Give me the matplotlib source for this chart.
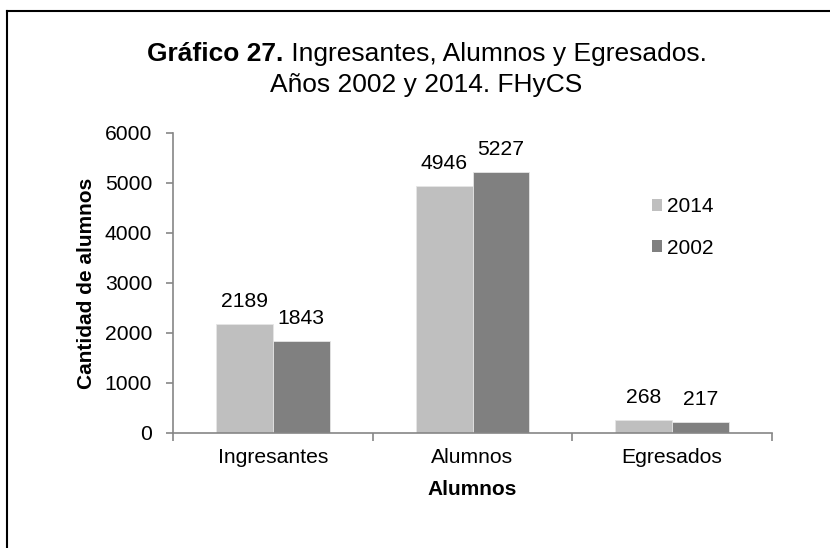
import matplotlib
matplotlib.use("Agg")
import matplotlib.pyplot as plt
from matplotlib.lines import Line2D
import numpy as np

categories = ["Ingresantes", "Alumnos", "Egresados"]
series_names = ["2014", "2002"]
values_2014 = [2189, 4946, 268]
values_2002 = [1843, 5227, 217]
yticks = [0, 1000, 2000, 3000, 4000, 5000, 6000]

plt.rcParams['font.family'] = ['Liberation Sans', 'DejaVu Sans']

W, H = 830, 548
fig = plt.figure(figsize=(W/100, H/100), dpi=100)
ax = fig.add_axes([173/W, 1-433/H, (772-173)/W, (433-133)/H])

x = np.arange(len(categories))
w = 0.285
c14, c02 = '#BFBFBF', '#808080'
b1 = ax.bar(x - w/2, values_2014, w, color=c14, edgecolor='#E6E6E6', linewidth=0.6, label=series_names[0])
b2 = ax.bar(x + w/2, values_2002, w, color=c02, edgecolor='#E6E6E6', linewidth=0.6, label=series_names[1])

FS = 15.2
for bars in (b1, b2):
    for r in bars:
        ax.annotate(f"{int(r.get_height())}", (r.get_x() + r.get_width()/2, r.get_height()),
                    xytext=(0, 12), textcoords='offset points', ha='center', va='baseline', fontsize=FS)

ax.set_xlim(-0.5, 2.5)
ax.set_ylim(0, 6000)
ax.set_yticks(yticks)
ax.set_yticklabels([str(t) for t in yticks], fontsize=FS)
ax.set_xticks(x)
ax.set_xticklabels(categories, fontsize=FS)
ax.tick_params(axis='x', length=0, pad=11)
ax.set_xticks([-0.5, 0.5, 1.5, 2.5], minor=True)
ax.tick_params(axis='x', which='minor', length=6, color='#868686', width=1.2, direction='out')
ax.tick_params(axis='y', length=5, color='#868686', width=1.2, direction='out', pad=10)
for s in ['top', 'right']:
    ax.spines[s].set_visible(False)
for s in ['left', 'bottom']:
    ax.spines[s].set_color('#868686')
    ax.spines[s].set_linewidth(1.2)

ax.set_xlabel("Alumnos", fontsize=15, fontweight='bold', labelpad=9)
ax.set_ylabel("Cantidad de alumnos", fontsize=15, fontweight='bold', labelpad=6)

fs_leg = 15
leg = fig.legend(handles=[b1, b2], labels=series_names, loc='upper left',
                 bbox_to_anchor=(652/W, 1-197/H), bbox_transform=fig.transFigure,
                 frameon=False, fontsize=fs_leg, borderpad=0, borderaxespad=0,
                 handlelength=0.5, handleheight=0.5, handletextpad=0.2, labelspacing=1.08)
for h in leg.legend_handles:
    h.set_edgecolor('none')

# Title with bold prefix, centered
TFS = 19
fig.canvas.draw()
r = fig.canvas.get_renderer()
t1 = fig.text(0, 1-61/H, "Gráfico 27.", fontsize=TFS, fontweight='bold', ha='left', va='baseline')
t2 = fig.text(0, 1-61/H, " Ingresantes, Alumnos y Egresados.", fontsize=TFS, ha='left', va='baseline')
w1 = t1.get_window_extent(r).width
w2 = t2.get_window_extent(r).width
cx = 427
x0 = cx - (w1 + w2)/2
t1.set_x(x0/W)
t2.set_x((x0 + w1)/W)
fig.text(426/W, 1-92/H, "Años 2002 y 2014. FHyCS", fontsize=TFS, ha='center', va='baseline')

# Border
fig.add_artist(Line2D([7/W, 1.0], [1-11/H, 1-11/H], color='black', linewidth=1.5, transform=fig.transFigure))
fig.add_artist(Line2D([7/W, 7/W], [1-11/H, 0.0], color='black', linewidth=1.5, transform=fig.transFigure))

fig.savefig("out.png", dpi=100)
